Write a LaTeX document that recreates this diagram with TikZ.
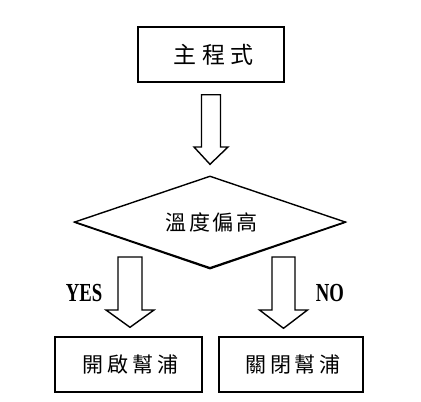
\documentclass[tikz,border=0pt]{standalone}
\usepackage{fontspec}
\setmainfont{Liberation Serif}
\newfontfamily\cjkwideA[LetterSpace=23]{Noto Sans CJK TC}
\newfontfamily\cjkwideB[LetterSpace=13]{Noto Sans CJK TC}
\newfontfamily\cjkwideC[LetterSpace=19]{Noto Sans CJK TC}
\usetikzlibrary{shapes.geometric}
\begin{document}
\begin{tikzpicture}[x=1pt,y=-1pt,
  frame/.style={draw,line width=1.4pt,rectangle,inner sep=0pt},
  decision/.style={draw,line width=1.4pt,diamond,inner sep=0pt,aspect=2.95},
  blockarrow/.style={draw,line width=1.4pt,line join=miter,fill=white},
  label/.style={font=\bfseries\fontsize{26}{26}\selectfont\addfontfeature{FakeStretch=0.72}}]
\useasboundingbox (0,0) rectangle (421,402);
\fill[white] (0,0) rectangle (421,402);
% nodes
\node[frame,minimum width=146pt,minimum height=55pt] (main) at (211,54.5)
  {\hspace{5pt}\cjkwideA\fontsize{23}{23}\selectfont 主程式};
\node[decision,minimum width=271pt,minimum height=92pt] (cond) at (210,222)
  {\hspace{3pt}\cjkwideB\fontsize{21}{21}\selectfont 溫度偏高};
\node[frame,minimum width=147pt,minimum height=55pt] (on) at (128.5,364.5)
  {\hspace{4pt}\cjkwideC\fontsize{21}{21}\selectfont 開啟幫浦};
\node[frame,minimum width=144pt,minimum height=55pt] (off) at (291,364.5)
  {\hspace{4pt}\cjkwideC\fontsize{21}{21}\selectfont 關閉幫浦};
\node[label] (yes) at (84,293) {YES};
\node[label] (no) at (330,293) {NO};
% block arrows (connectors)
\coordinate (a1s) at ([yshift=-12pt]main.south);
\coordinate (a1t) at ([yshift=11pt]cond.north);
\draw[blockarrow] ([xshift=-9.5pt]a1s) -- ([xshift=9.5pt]a1s)
  -- ([xshift=9.5pt]a1s |- 0,147) -- ([xshift=17pt]a1s |- 0,147) -- (a1t)
  -- ([xshift=-17pt]a1s |- 0,147) -- ([xshift=-9.5pt]a1s |- 0,147) -- cycle;
\coordinate (a2s) at (130,257);
\coordinate (a2t) at ([yshift=9pt]on.north -| a2s);
\draw[blockarrow] ([xshift=-12pt]a2s) -- ([xshift=12pt]a2s)
  -- ([xshift=12pt]a2s |- 0,310) -- ([xshift=24pt]a2s |- 0,310) -- (a2t)
  -- ([xshift=-24pt]a2s |- 0,310) -- ([xshift=-12pt]a2s |- 0,310) -- cycle;
\coordinate (a3s) at (283.5,257);
\coordinate (a3t) at ([yshift=8pt]off.north -| a3s);
\draw[blockarrow] ([xshift=-11.5pt]a3s) -- ([xshift=11.5pt]a3s)
  -- ([xshift=11.5pt]a3s |- 0,310) -- ([xshift=24pt]a3s |- 0,310) -- (a3t)
  -- ([xshift=-24pt]a3s |- 0,310) -- ([xshift=-11.5pt]a3s |- 0,310) -- cycle;
% redraw diamond edge over arrow tops
\draw[line width=1.4pt] (cond.west) -- (cond.south) -- (cond.east);
\end{tikzpicture}
\end{document}
